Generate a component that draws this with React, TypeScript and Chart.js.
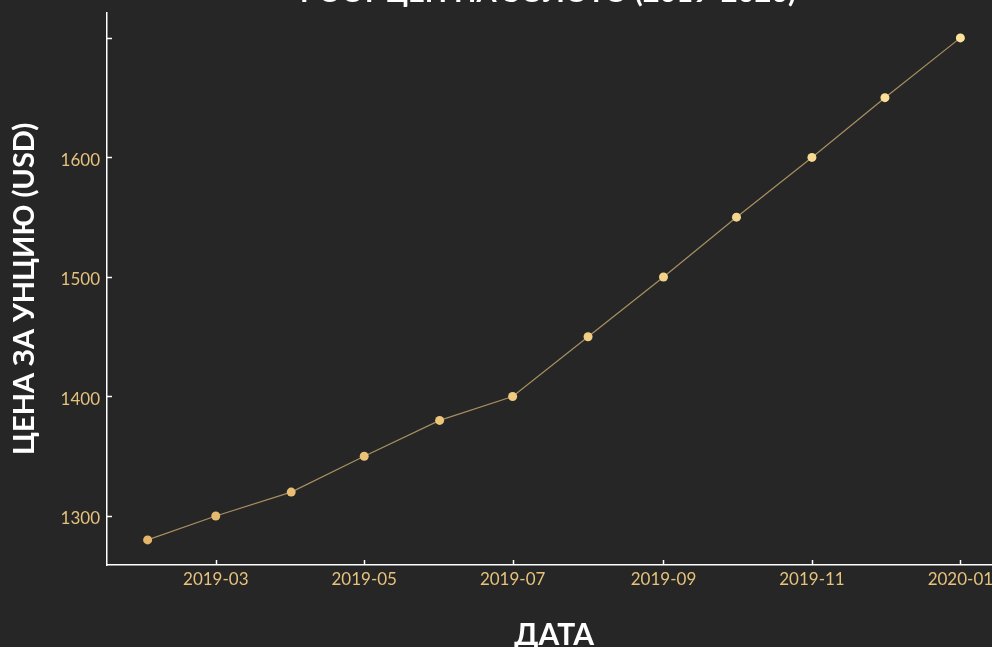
import { useEffect, useRef } from 'react';
import { Chart, registerables } from 'chart.js';

Chart.register(...registerables);

// ---- data ----
const dates = [
  '2019-02-01', '2019-03-01', '2019-04-01', '2019-05-01', '2019-06-01', '2019-07-01',
  '2019-08-01', '2019-09-01', '2019-10-01', '2019-11-01', '2019-12-01', '2020-01-01',
];
const prices = [1280, 1300, 1320, 1350, 1380, 1400, 1450, 1500, 1550, 1600, 1650, 1700];
const xTickLabels = ['2019-03', '2019-05', '2019-07', '2019-09', '2019-11', '2020-01'];
const yTickValues = [1300, 1400, 1500, 1600, 1700];
const yTickLabels = ['1300', '1400', '1500', '1600', ''];
const chartTitle = 'РОСТ ЦЕН НА ЗОЛОТО (2019-2020)';
const xTitle = 'ДАТА';
const yTitle = 'ЦЕНА ЗА УНЦИЮ (USD)';

// ---- style ----
const BG = '#262626';
const GOLD = '#e6c27c';
const FONT = 'Lato';
const POINT_START = [228, 182, 106];
const POINT_END = [253, 226, 155];

const toTime = (s: string) => Date.parse(s.length === 7 ? s + '-01' : s);

export default function App() {
  const ref = useRef<HTMLCanvasElement | null>(null);

  useEffect(() => {
    if (!ref.current) return;
    const xs = dates.map(toTime);
    const xMinD = Math.min(...xs);
    const xMaxD = Math.max(...xs);
    const xPad = (xMaxD - xMinD) * 0.05;
    const yMinD = Math.min(...prices);
    const yMaxD = Math.max(...prices);
    const yPad = (yMaxD - yMinD) * 0.05;

    const innerTicks = {
      id: 'innerTicks',
      afterDraw(chart: any) {
        const { ctx, chartArea, scales } = chart;
        ctx.save();
        ctx.strokeStyle = '#ffffff';
        ctx.lineWidth = 1.5;
        scales.x.ticks.forEach((t: any) => {
          const px = Math.round(scales.x.getPixelForValue(t.value)) + 0.5;
          ctx.beginPath();
          ctx.moveTo(px, chartArea.bottom);
          ctx.lineTo(px, chartArea.bottom - 5);
          ctx.stroke();
        });
        scales.y.ticks.forEach((t: any) => {
          const py = Math.round(scales.y.getPixelForValue(t.value)) + 0.5;
          ctx.beginPath();
          ctx.moveTo(chartArea.left, py);
          ctx.lineTo(chartArea.left + 5, py);
          ctx.stroke();
        });
        ctx.restore();
      },
    };

    const n = prices.length;
    const pointColor = (ctx: any) => {
      const t = n > 1 ? ctx.dataIndex / (n - 1) : 0;
      const c = POINT_START.map((v, i) => Math.round(v + (POINT_END[i] - v) * t));
      return `rgb(${c[0]},${c[1]},${c[2]})`;
    };

    const chart = new Chart(ref.current, {
      type: 'line',
      data: {
        datasets: [
          {
            data: xs.map((x, i) => ({ x, y: prices[i] })),
            borderColor: 'rgba(200,170,110,0.8)',
            borderWidth: 1.2,
            pointRadius: 4.5,
            pointBorderWidth: 0,
            pointBackgroundColor: pointColor,
            pointBorderColor: pointColor,
            tension: 0,
            xAxisID: 'x',
            yAxisID: 'y',
          },
        ],
      },
      plugins: [innerTicks],
      options: {
        responsive: false,
        animation: false,
        layout: { padding: 0 },
        plugins: {
          legend: { display: false },
          tooltip: { enabled: false },
          title: {
            display: true,
            text: chartTitle,
            color: '#ffffff',
            font: { family: FONT, size: 29, weight: 'bold' },
            padding: { top: 9, bottom: 3 },
          },
        },
        scales: {
          x: {
            type: 'linear',
            min: xMinD - xPad,
            max: xMaxD + xPad,
            afterBuildTicks: (s: any) => {
              s.ticks = xTickLabels.map((l) => ({ value: toTime(l) }));
            },
            afterFit: (s: any) => {
              s.height = 95;
            },
            grid: { display: true, drawOnChartArea: false, drawTicks: false },
            border: { display: true, color: '#ffffff', width: 1.5 },
            ticks: {
              color: GOLD,
              font: { family: FONT, size: 17 },
              padding: 4,
              maxRotation: 0,
              autoSkip: false,
              callback: (_v: any, i: number) => xTickLabels[i],
            },
            title: {
              display: true,
              text: xTitle,
              color: '#ffffff',
              font: { family: FONT, size: 30, weight: 'bold' },
              padding: { top: 27, bottom: 7 },
            },
          },
          y: {
            type: 'linear',
            position: 'left',
            min: yMinD - yPad,
            max: yMaxD + yPad,
            afterBuildTicks: (s: any) => {
              s.ticks = yTickValues.map((v) => ({ value: v }));
            },
            afterFit: (s: any) => {
              s.width = 107;
            },
            grid: { display: true, drawOnChartArea: false, drawTicks: false },
            border: { display: true, color: '#ffffff', width: 1.5 },
            ticks: {
              color: GOLD,
              font: { family: FONT, size: 17 },
              padding: 7,
              labelOffset: 3,
              callback: (_v: any, i: number) => yTickLabels[i],
            },
            title: {
              display: true,
              text: yTitle,
              color: '#ffffff',
              font: { family: FONT, size: 29, weight: 'bold' },
              padding: { top: 7, bottom: 0 },
            },
          },
          // empty right-hand margin box so the chart title centres on the full canvas
          yMargin: {
            type: 'linear',
            position: 'right',
            display: true,
            afterFit: (s: any) => {
              s.width = 95;
            },
            grid: { display: false, drawOnChartArea: false, drawTicks: false },
            border: { display: false },
            ticks: { display: false },
          },
        },
      },
    } as any);

    return () => chart.destroy();
  }, []);

  return (
    <div
      style={{
        position: 'fixed',
        left: 0,
        top: 0,
        width: 992,
        height: 647,
        overflow: 'hidden',
        background: BG,
      }}
    >
      <canvas
        ref={ref}
        width={1096}
        height={694}
        style={{ position: 'absolute', left: 0, top: -34 }}
      />
    </div>
  );
}
